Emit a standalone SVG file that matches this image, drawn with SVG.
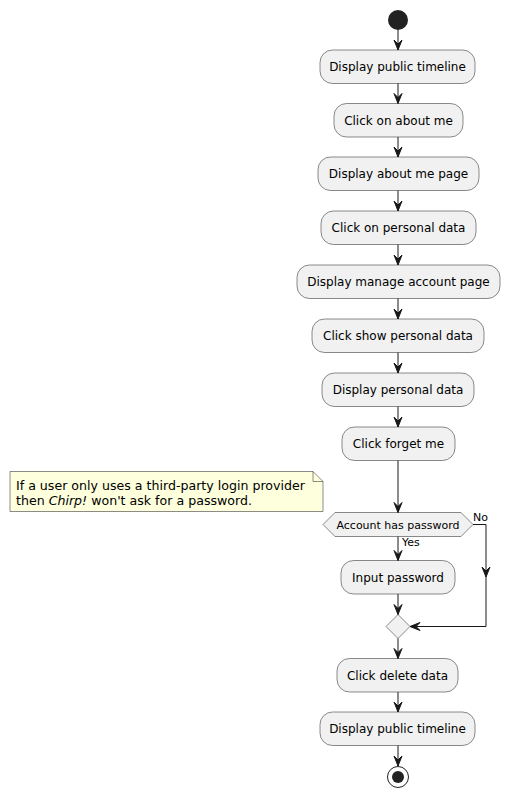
<svg xmlns="http://www.w3.org/2000/svg" width="510" height="798" viewBox="0 0 510 798">
<style>
.act{fill:#F1F1F1;stroke:#181818;stroke-width:0.5}
.t{font-family:"DejaVu Sans",sans-serif;font-size:12px;fill:#000;text-anchor:middle}
.s{font-family:"DejaVu Sans",sans-serif;font-size:11px;fill:#000}
.n{font-family:"DejaVu Sans",sans-serif;font-size:12.6px;fill:#000}
.ln{stroke:#181818;stroke-width:1;fill:none}
.ah{fill:#181818;stroke:#181818;stroke-width:1}
</style>
<rect width="510" height="798" fill="#FFFFFF"/>
<g id="start"><circle cx="398" cy="20" r="10" fill="#222222"/></g>
<g id="a1"><rect class="act" x="320" y="50" width="155" height="33.5" rx="12.5"/><text class="t" x="397.5" y="71">Display public timeline</text></g>
<g id="a2"><rect class="act" x="334" y="103.5" width="129" height="33.5" rx="12.5"/><text class="t" x="398.5" y="124.5">Click on about me</text></g>
<g id="a3"><rect class="act" x="318" y="157" width="161" height="33.5" rx="12.5"/><text class="t" x="398.5" y="178">Display about me page</text></g>
<g id="a4"><rect class="act" x="321" y="211" width="155" height="33.5" rx="12.5"/><text class="t" x="398.5" y="232">Click on personal data</text></g>
<g id="a5"><rect class="act" x="297" y="265" width="203" height="33.5" rx="12.5"/><text class="t" x="398.5" y="286">Display manage account page</text></g>
<g id="a6"><rect class="act" x="312" y="319" width="172" height="33.5" rx="12.5"/><text class="t" x="398" y="340">Click show personal data</text></g>
<g id="a7"><rect class="act" x="322" y="373" width="152" height="33.5" rx="12.5"/><text class="t" x="398" y="394">Display personal data</text></g>
<g id="a8"><rect class="act" x="342" y="427" width="113" height="33.5" rx="12.5"/><text class="t" x="398.5" y="448">Click forget me</text></g>
<g id="note"><path d="M10,471.5 L313,471.5 L323,481.5 L323,511.5 L10,511.5 Z" fill="#FEFFDD" stroke="#181818" stroke-width="0.5"/><path d="M313,471.5 L313,481.5 L323,481.5" fill="none" stroke="#181818" stroke-width="0.5"/><text class="n" x="16" y="490">If a user only uses a third-party login provider</text><text class="n" x="16" y="504.5">then <tspan font-style="italic">Chirp!</tspan> won't ask for a password.</text></g>
<g id="d1"><polygon class="act" points="323,524.5 335,512.5 461,512.5 473,524.5 461,536.5 335,536.5"/><text class="s" x="398" y="528.5" text-anchor="middle">Account has password</text></g>
<g id="a9"><rect class="act" x="341" y="560.5" width="114" height="33.5" rx="12.5"/><text class="t" x="398" y="581.5">Input password</text></g>
<g id="m1"><polygon class="act" points="398,614.5 410,626.5 398,638.5 386,626.5"/></g>
<g id="a10"><rect class="act" x="337" y="658.5" width="121" height="33.5" rx="12.5"/><text class="t" x="397.5" y="679.5">Click delete data</text></g>
<g id="a11"><rect class="act" x="320" y="712" width="155" height="33.5" rx="12.5"/><text class="t" x="397.5" y="733">Display public timeline</text></g>
<g id="end"><circle cx="398" cy="777" r="10.5" fill="none" stroke="#222222" stroke-width="1"/><circle cx="398" cy="777" r="6" fill="#222222"/></g>
<g id="connectors">
<line class="ln" x1="398" y1="30" x2="398" y2="50"/><polygon class="ah" points="394,40 398,50 402,40 398,44"/>
<line class="ln" x1="398" y1="83.5" x2="398" y2="103.5"/><polygon class="ah" points="394,93.5 398,103.5 402,93.5 398,97.5"/>
<line class="ln" x1="398" y1="137" x2="398" y2="157"/><polygon class="ah" points="394,147 398,157 402,147 398,151"/>
<line class="ln" x1="398" y1="190.5" x2="398" y2="211"/><polygon class="ah" points="394,201 398,211 402,201 398,205"/>
<line class="ln" x1="398" y1="244.5" x2="398" y2="265"/><polygon class="ah" points="394,255 398,265 402,255 398,259"/>
<line class="ln" x1="398" y1="298.5" x2="398" y2="319"/><polygon class="ah" points="394,309 398,319 402,309 398,313"/>
<line class="ln" x1="398" y1="352.5" x2="398" y2="373"/><polygon class="ah" points="394,363 398,373 402,363 398,367"/>
<line class="ln" x1="398" y1="406.5" x2="398" y2="427"/><polygon class="ah" points="394,417 398,427 402,417 398,421"/>
<line class="ln" x1="398" y1="460.5" x2="398" y2="512.5"/><polygon class="ah" points="394,502.5 398,512.5 402,502.5 398,506.5"/>
<line class="ln" x1="398" y1="536.5" x2="398" y2="560.5"/><polygon class="ah" points="394,550.5 398,560.5 402,550.5 398,554.5"/>
<text class="s" x="402" y="546">Yes</text>
<polyline class="ln" points="473,524.5 486,524.5 486,626.5 410,626.5"/>
<polygon class="ah" points="482,567 486,577 490,567 486,571"/>
<polygon class="ah" points="420,622.5 410,626.5 420,630.5 416,626.5"/>
<text class="s" x="473" y="521">No</text>
<line class="ln" x1="398" y1="594" x2="398" y2="614.5"/><polygon class="ah" points="394,604.5 398,614.5 402,604.5 398,608.5"/>
<line class="ln" x1="398" y1="638.5" x2="398" y2="658.5"/><polygon class="ah" points="394,648.5 398,658.5 402,648.5 398,652.5"/>
<line class="ln" x1="398" y1="692" x2="398" y2="712"/><polygon class="ah" points="394,702 398,712 402,702 398,706"/>
<line class="ln" x1="398" y1="745.5" x2="398" y2="766"/><polygon class="ah" points="394,756 398,766 402,756 398,760"/>
</g>
</svg>
